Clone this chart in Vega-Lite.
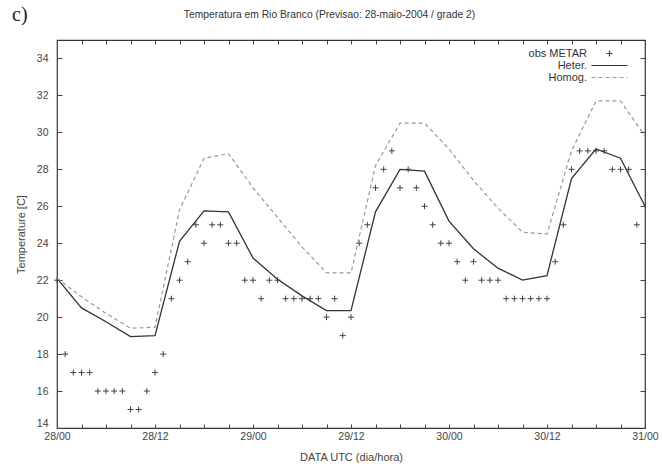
{
  "$schema": "https://vega.github.io/schema/vega-lite/v6.json",
  "width": 588,
  "height": 388,
  "autosize": {"type": "none"},
  "padding": {"left": 57, "top": 40, "right": 17, "bottom": 38},
  "background": "white",
  "title": {"text": "c)", "anchor": "start", "frame": "group", "font": "Liberation Serif", "fontSize": 20, "fontWeight": "normal", "color": "#222", "dx": -45, "dy": 15, "offset": 0},
  "config": {
    "view": {"stroke": "#333", "strokeWidth": 1.2},
    "axis": {"grid": false, "domain": false, "labelFont": "Liberation Sans", "labelFontSize": 10.5, "labelColor": "#444", "titleFont": "Liberation Sans", "titleFontSize": 11, "titleFontWeight": "normal", "titleColor": "#444", "tickColor": "#444", "tickWidth": 1, "labelFlush": false},
    "legend": {"orient": "none", "legendX": 547, "legendY": 8, "padding": 0, "labelFont": "Liberation Sans", "labelFontSize": 11, "labelColor": "#333", "labelAlign": "right", "labelOffset": -28, "symbolSize": 36, "symbolStrokeWidth": 1.2, "rowPadding": 0}
  },
  "data": {"values": [
    {"h": 0, "T": 22, "series": "obs METAR"}, {"h": 1, "T": 18, "series": "obs METAR"}, {"h": 2, "T": 17, "series": "obs METAR"}, {"h": 3, "T": 17, "series": "obs METAR"}, {"h": 4, "T": 17, "series": "obs METAR"}, {"h": 5, "T": 16, "series": "obs METAR"}, {"h": 6, "T": 16, "series": "obs METAR"}, {"h": 7, "T": 16, "series": "obs METAR"}, {"h": 8, "T": 16, "series": "obs METAR"}, {"h": 9, "T": 15, "series": "obs METAR"}, {"h": 10, "T": 15, "series": "obs METAR"}, {"h": 11, "T": 16, "series": "obs METAR"}, {"h": 12, "T": 17, "series": "obs METAR"}, {"h": 13, "T": 18, "series": "obs METAR"}, {"h": 14, "T": 21, "series": "obs METAR"}, {"h": 15, "T": 22, "series": "obs METAR"}, {"h": 16, "T": 23, "series": "obs METAR"}, {"h": 17, "T": 25, "series": "obs METAR"}, {"h": 18, "T": 24, "series": "obs METAR"}, {"h": 19, "T": 25, "series": "obs METAR"}, {"h": 20, "T": 25, "series": "obs METAR"}, {"h": 21, "T": 24, "series": "obs METAR"}, {"h": 22, "T": 24, "series": "obs METAR"}, {"h": 23, "T": 22, "series": "obs METAR"}, {"h": 24, "T": 22, "series": "obs METAR"}, {"h": 25, "T": 21, "series": "obs METAR"}, {"h": 26, "T": 22, "series": "obs METAR"}, {"h": 27, "T": 22, "series": "obs METAR"}, {"h": 28, "T": 21, "series": "obs METAR"}, {"h": 29, "T": 21, "series": "obs METAR"}, {"h": 30, "T": 21, "series": "obs METAR"}, {"h": 31, "T": 21, "series": "obs METAR"}, {"h": 32, "T": 21, "series": "obs METAR"}, {"h": 33, "T": 20, "series": "obs METAR"}, {"h": 34, "T": 21, "series": "obs METAR"}, {"h": 35, "T": 19, "series": "obs METAR"}, {"h": 36, "T": 20, "series": "obs METAR"}, {"h": 37, "T": 24, "series": "obs METAR"}, {"h": 38, "T": 25, "series": "obs METAR"}, {"h": 39, "T": 27, "series": "obs METAR"}, {"h": 40, "T": 28, "series": "obs METAR"}, {"h": 41, "T": 29, "series": "obs METAR"}, {"h": 42, "T": 27, "series": "obs METAR"}, {"h": 43, "T": 28, "series": "obs METAR"}, {"h": 44, "T": 27, "series": "obs METAR"}, {"h": 45, "T": 26, "series": "obs METAR"}, {"h": 46, "T": 25, "series": "obs METAR"}, {"h": 47, "T": 24, "series": "obs METAR"}, {"h": 48, "T": 24, "series": "obs METAR"}, {"h": 49, "T": 23, "series": "obs METAR"}, {"h": 50, "T": 22, "series": "obs METAR"}, {"h": 51, "T": 23, "series": "obs METAR"}, {"h": 52, "T": 22, "series": "obs METAR"}, {"h": 53, "T": 22, "series": "obs METAR"}, {"h": 54, "T": 22, "series": "obs METAR"}, {"h": 55, "T": 21, "series": "obs METAR"}, {"h": 56, "T": 21, "series": "obs METAR"}, {"h": 57, "T": 21, "series": "obs METAR"}, {"h": 58, "T": 21, "series": "obs METAR"}, {"h": 59, "T": 21, "series": "obs METAR"}, {"h": 60, "T": 21, "series": "obs METAR"}, {"h": 61, "T": 23, "series": "obs METAR"}, {"h": 62, "T": 25, "series": "obs METAR"}, {"h": 63, "T": 28, "series": "obs METAR"}, {"h": 64, "T": 29, "series": "obs METAR"}, {"h": 65, "T": 29, "series": "obs METAR"}, {"h": 66, "T": 29, "series": "obs METAR"}, {"h": 67, "T": 29, "series": "obs METAR"}, {"h": 68, "T": 28, "series": "obs METAR"}, {"h": 69, "T": 28, "series": "obs METAR"}, {"h": 70, "T": 28, "series": "obs METAR"}, {"h": 71, "T": 25, "series": "obs METAR"},
    {"h": 0, "T": 22.1, "series": "Heter."}, {"h": 3, "T": 20.5, "series": "Heter."}, {"h": 6, "T": 19.75, "series": "Heter."}, {"h": 9, "T": 18.95, "series": "Heter."}, {"h": 12, "T": 19.0, "series": "Heter."}, {"h": 15, "T": 24.1, "series": "Heter."}, {"h": 18, "T": 25.75, "series": "Heter."}, {"h": 21, "T": 25.7, "series": "Heter."}, {"h": 24, "T": 23.2, "series": "Heter."}, {"h": 27, "T": 22.05, "series": "Heter."}, {"h": 30, "T": 21.15, "series": "Heter."}, {"h": 33, "T": 20.35, "series": "Heter."}, {"h": 36, "T": 20.35, "series": "Heter."}, {"h": 39, "T": 25.7, "series": "Heter."}, {"h": 42, "T": 28.0, "series": "Heter."}, {"h": 45, "T": 27.9, "series": "Heter."}, {"h": 48, "T": 25.2, "series": "Heter."}, {"h": 51, "T": 23.7, "series": "Heter."}, {"h": 54, "T": 22.65, "series": "Heter."}, {"h": 57, "T": 22.0, "series": "Heter."}, {"h": 60, "T": 22.25, "series": "Heter."}, {"h": 63, "T": 27.5, "series": "Heter."}, {"h": 66, "T": 29.1, "series": "Heter."}, {"h": 69, "T": 28.6, "series": "Heter."}, {"h": 72, "T": 26.0, "series": "Heter."},
    {"h": 0, "T": 22.1, "series": "Homog."}, {"h": 3, "T": 21.1, "series": "Homog."}, {"h": 6, "T": 20.2, "series": "Homog."}, {"h": 9, "T": 19.4, "series": "Homog."}, {"h": 12, "T": 19.45, "series": "Homog."}, {"h": 15, "T": 25.8, "series": "Homog."}, {"h": 18, "T": 28.6, "series": "Homog."}, {"h": 21, "T": 28.85, "series": "Homog."}, {"h": 24, "T": 27.0, "series": "Homog."}, {"h": 27, "T": 25.4, "series": "Homog."}, {"h": 30, "T": 23.8, "series": "Homog."}, {"h": 33, "T": 22.4, "series": "Homog."}, {"h": 36, "T": 22.4, "series": "Homog."}, {"h": 39, "T": 28.2, "series": "Homog."}, {"h": 42, "T": 30.5, "series": "Homog."}, {"h": 45, "T": 30.5, "series": "Homog."}, {"h": 48, "T": 29.1, "series": "Homog."}, {"h": 51, "T": 27.4, "series": "Homog."}, {"h": 54, "T": 25.9, "series": "Homog."}, {"h": 57, "T": 24.6, "series": "Homog."}, {"h": 60, "T": 24.5, "series": "Homog."}, {"h": 63, "T": 29.0, "series": "Homog."}, {"h": 66, "T": 31.7, "series": "Homog."}, {"h": 69, "T": 31.7, "series": "Homog."}, {"h": 72, "T": 29.8, "series": "Homog."}
  ]},
  "layer": [
    {
      "transform": [{"filter": "datum.series === 'obs METAR'"}],
      "mark": {"type": "point", "filled": false, "size": 36, "strokeWidth": 1, "opacity": 1},
      "encoding": {
        "x": {"field": "h", "type": "quantitative", "scale": {"domain": [0, 72], "nice": false, "zero": false},
              "axis": {"orient": "bottom", "values": [0,3,6,9,12,15,18,21,24,27,30,33,36,39,42,45,48,51,54,57,60,63,66,69,72],
                       "labelExpr": "datum.value % 12 === 0 ? (28 + floor(datum.value / 24)) + '/' + (datum.value % 24 === 0 ? '00' : '12') : ''",
                       "tickSize": -4, "labelPadding": 7, "title": "DATA UTC (dia/hora)", "titlePadding": 10}},
        "y": {"field": "T", "type": "quantitative", "scale": {"domain": [14, 35], "nice": false, "zero": false},
              "axis": {"orient": "left", "values": [14,16,18,20,22,24,26,28,30,32,34], "tickSize": -5, "labelPadding": 14, "labelFlush": true, "labelFlushOffset": 0, "title": "Temperature [C]", "titlePadding": 10}},
        "shape": {"field": "series", "type": "nominal",
                  "scale": {"domain": ["obs METAR", "Heter.", "Homog."], "range": ["M-1,0H1M0,-1V1", "M-6,0H6", "M-6,0H-4.67M-3.67,0H-2.33M-1.33,0H0M1,0H2.33M3.33,0H4.67M5.67,0H6"]},
                  "legend": {"title": null}},
        "color": {"field": "series", "type": "nominal",
                  "scale": {"domain": ["obs METAR", "Heter.", "Homog."], "range": ["#444444", "#333333", "#999999"]},
                  "legend": {"title": null}}
      }
    },
    {
      "transform": [{"filter": "datum.series === 'Heter.'"}],
      "mark": {"type": "line", "strokeWidth": 1.3},
      "encoding": {
        "x": {"field": "h", "type": "quantitative",
              "axis": {"orient": "top", "values": [0,3,6,9,12,15,18,21,24,27,30,33,36,39,42,45,48,51,54,57,60,63,66,69,72], "labels": false, "tickSize": -4,
                       "title": "Temperatura em Rio Branco (Previsao: 28-maio-2004 / grade 2)", "titleFontSize": 10.3, "titleColor": "#333", "titlePadding": 20, "titleX": 272}},
        "y": {"field": "T", "type": "quantitative",
              "axis": {"orient": "right", "values": [14,16,18,20,22,24,26,28,30,32,34], "labels": false, "tickSize": -5, "title": null}},
        "color": {"field": "series", "type": "nominal", "legend": {"title": null}}
      }
    },
    {
      "transform": [{"filter": "datum.series === 'Homog.'"}],
      "mark": {"type": "line", "strokeWidth": 1.2, "strokeDash": [4, 3]},
      "encoding": {
        "x": {"field": "h", "type": "quantitative", "axis": null},
        "y": {"field": "T", "type": "quantitative", "axis": null},
        "color": {"field": "series", "type": "nominal", "legend": {"title": null}}
      }
    }
  ],
  "resolve": {"axis": {"x": "independent", "y": "independent"}}
}
